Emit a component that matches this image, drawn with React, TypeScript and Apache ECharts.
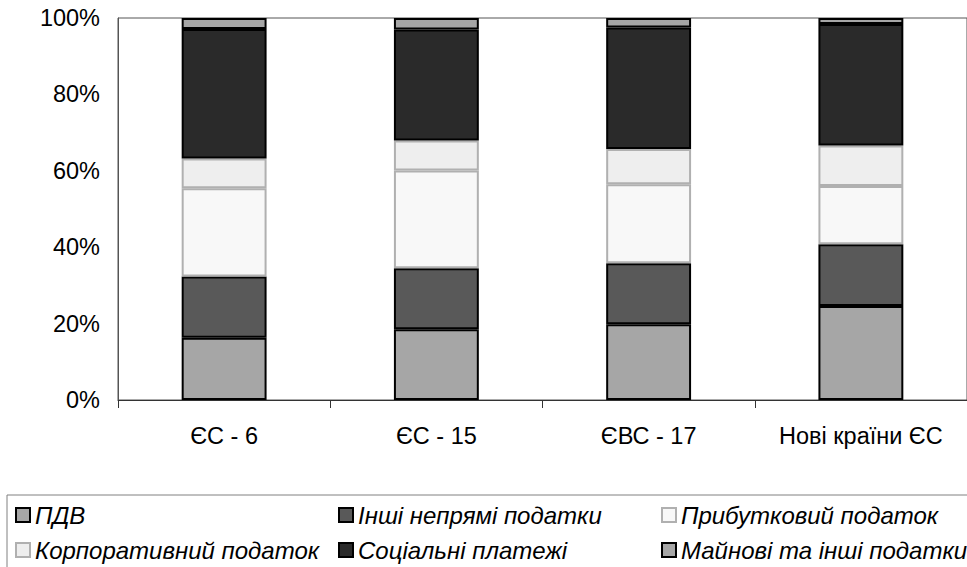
import React, { useEffect, useRef } from "react";
import * as echarts from "echarts";

// Tax structure by group of countries, % of total tax revenue
const regions = ["ЄС - 6", "ЄС - 15", "ЄВС - 17", "Нові країни ЄС"];
const vat = [16.3, 18.5, 19.8, 24.6];
const otherIndirect = [16.0, 16.0, 16.0, 16.2];
const personalIncome = [23.1, 25.6, 20.7, 15.2];
const corporate = [7.8, 7.8, 9.2, 10.6];
const social = [33.9, 29.1, 31.8, 31.8];
const property = [2.9, 3.0, 2.5, 1.6];
const yTicks = [0, 20, 40, 60, 80, 100];

const seriesDefs = [
  { name: "ПДВ", data: vat, color: "#a6a6a6", border: "#000000" },
  { name: "Інші непрямі податки", data: otherIndirect, color: "#595959", border: "#000000" },
  { name: "Прибутковий податок", data: personalIncome, color: "#f8f8f8", border: "#b0b0b0" },
  { name: "Корпоративний податок", data: corporate, color: "#eeeeee", border: "#b0b0b0" },
  { name: "Соціальні платежі", data: social, color: "#2a2a2a", border: "#000000" },
  { name: "Майнові та інші податки", data: property, color: "#a6a6a6", border: "#000000" },
];

const FONT = "'Liberation Sans', Arial, sans-serif";
const LEGEND_COLS = [10, 333, 656];
const LEGEND_ROWS = [498, 533];

export default function App() {
  const ref = useRef<HTMLDivElement>(null);

  useEffect(() => {
    document.body.style.margin = "0";
    document.body.style.overflow = "hidden";
    if (!ref.current) return;
    const chart = echarts.init(ref.current, undefined, { renderer: "svg" });

    // one legend per entry, laid out on a 3 x 2 grid
    const legends = seriesDefs.map((s, i) => ({
      left: LEGEND_COLS[i % 3],
      top: LEGEND_ROWS[Math.floor(i / 3)],
      icon: "rect",
      itemWidth: 14,
      itemHeight: 14,
      selectedMode: false,
      itemStyle: { borderWidth: 2 },
      data: [s.name],
      textStyle: {
        fontFamily: FONT,
        fontStyle: "italic" as const,
        fontSize: 24,
        color: "#000",
      },
    }));

    chart.setOption({
      animation: false,
      backgroundColor: "#ffffff",
      grid: {
        left: 118,
        top: 18,
        right: -7,
        bottom: 167,
        show: true,
        borderColor: "#555555",
        borderWidth: 1,
      },
      legend: legends,
      xAxis: {
        type: "category",
        data: regions,
        axisLine: { show: true, lineStyle: { color: "#333333", width: 1 } },
        axisTick: { show: true, alignWithLabel: false, interval: 0, length: 8, lineStyle: { color: "#333333" } },
        axisLabel: { fontFamily: FONT, fontSize: 23.5, color: "#000", margin: 24, interval: 0 },
      },
      yAxis: {
        type: "value",
        min: yTicks[0],
        max: yTicks[yTicks.length - 1],
        interval: yTicks[1] - yTicks[0],
        axisLine: { show: true, lineStyle: { color: "#555555", width: 1 } },
        axisTick: { show: false },
        splitLine: { show: false },
        axisLabel: {
          fontFamily: FONT,
          fontSize: 23.5,
          color: "#000",
          margin: 18,
          formatter: "{value}%",
        },
      },
      graphic: [
        {
          type: "rect",
          shape: { x: 7, y: 495, width: 990, height: 120 },
          style: { fill: "none", stroke: "#808080", lineWidth: 1 },
          silent: true,
        },
      ],
      series: seriesDefs.map((s) => ({
        name: s.name,
        type: "bar",
        stack: "total",
        barWidth: "40%",
        data: s.data,
        itemStyle: { color: s.color, borderColor: s.border, borderWidth: 2 },
      })),
    });

    return () => chart.dispose();
  }, []);

  return <div ref={ref} style={{ width: 967, height: 567 }} />;
}
